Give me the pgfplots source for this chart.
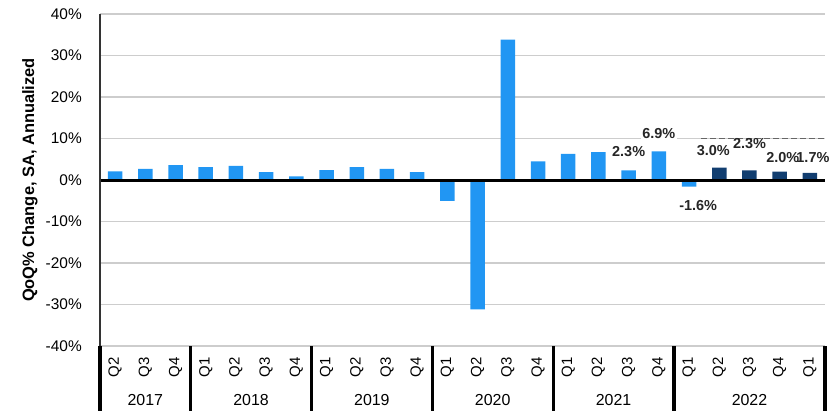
\documentclass[border=0pt]{standalone}
\usepackage{pgfplots}
\pgfplotsset{compat=1.18}
\usepackage{fontspec}
\setmainfont{Liberation Sans}
\definecolor{barlight}{RGB}{33,150,243}
\definecolor{bardark}{RGB}{18,62,112}
\definecolor{gridc}{RGB}{205,205,205}
\begin{document}
\begin{tikzpicture}
\begin{axis}[
  name=ax, at={(0,0)}, anchor=south west,
  scale only axis, width=725bp, height=332bp,
  xmin=-0.5, xmax=23.5, ymin=-40, ymax=40,
  clip=false,
  axis line style={draw=none},
  major tick length=0pt,
  ymajorgrids, grid style={gridc, line width=1.2bp},
  ytick={-40,-30,-20,-10,0,10,20,30,40},
  yticklabels={-40\%,-30\%,-20\%,-10\%,0\%,10\%,20\%,30\%,40\%},
  yticklabel style={anchor=east, inner sep=0pt, xshift=-18bp, font=\fontsize{15.5}{18}\selectfont},
  xtick={0,...,23},
  xticklabels={Q2,Q3,Q4,Q1,Q2,Q3,Q4,Q1,Q2,Q3,Q4,Q1,Q2,Q3,Q4,Q1,Q2,Q3,Q4,Q1,Q2,Q3,Q4,Q1},
  xticklabel style={rotate=90, anchor=east, inner sep=0pt, font=\fontsize{15}{18}\selectfont},
  xticklabel shift=11bp,
  ybar, bar width=14.5bp, bar shift=0pt,
]
\addplot[draw=none, fill=barlight] coordinates {
(0,2.1) (1,2.7) (2,3.6) (3,3.1) (4,3.4) (5,1.9) (6,0.9) (7,2.4) (8,3.1) (9,2.7) (10,1.9)
(11,-5.0) (12,-31.2) (13,33.8) (14,4.5) (15,6.3) (16,6.7) (17,2.3) (18,6.9) (19,-1.6)};
\addplot[draw=none, fill=bardark] coordinates {
(20,3.0) (21,2.3) (22,2.0) (23,1.7)};
% zero line and left axis
\draw[black, line width=3bp] (axis cs:-0.5,0) -- (axis cs:23.5,0);
\draw[black!80, line width=1.5bp] (axis cs:-0.5,40) -- (axis cs:-0.5,-40);
% dashed segment on 10% line
\draw[black!60, line width=1.3bp, dash pattern=on 6bp off 3bp] (axis cs:19.4,10) -- (axis cs:23.5,10);
% separators
\pgfplotsinvokeforeach{-0.5,2.5,6.5,10.5,14.5,18.5,23.5}{
  \draw[black, line width=3.2bp] (axis cs:#1,-40) -- ([yshift=-66bp]axis cs:#1,-40);
}
% year labels
\node[font=\fontsize{16}{18}\selectfont, inner sep=0pt] at ([yshift=-54bp]axis cs:1,-40) {2017};
\node[font=\fontsize{16}{18}\selectfont, inner sep=0pt] at ([yshift=-54bp]axis cs:4.5,-40) {2018};
\node[font=\fontsize{16}{18}\selectfont, inner sep=0pt] at ([yshift=-54bp]axis cs:8.5,-40) {2019};
\node[font=\fontsize{16}{18}\selectfont, inner sep=0pt] at ([yshift=-54bp]axis cs:12.5,-40) {2020};
\node[font=\fontsize{16}{18}\selectfont, inner sep=0pt] at ([yshift=-54bp]axis cs:16.5,-40) {2021};
\node[font=\fontsize{16}{18}\selectfont, inner sep=0pt] at ([yshift=-54bp]axis cs:21,-40) {2022};
% data labels
\node[fill=white, font=\bfseries\fontsize{14.5}{17}\selectfont, text=black!85, inner sep=1.5bp] at (axis cs:17.0,6.8) {2.3\%};
\node[fill=white, font=\bfseries\fontsize{14.5}{17}\selectfont, text=black!85, inner sep=1.5bp] at (axis cs:18.0,11.3) {6.9\%};
\node[font=\bfseries\fontsize{14.5}{17}\selectfont, text=black!85, inner sep=1.5bp] at (axis cs:19.8,7.1) {3.0\%};
\node[font=\bfseries\fontsize{14.5}{17}\selectfont, text=black!85, inner sep=1.5bp] at (axis cs:21.0,8.9) {2.3\%};
\node[font=\bfseries\fontsize{14.5}{17}\selectfont, text=black!85, inner sep=1.5bp] at (axis cs:22.1,5.3) {2.0\%};
\node[font=\bfseries\fontsize{14.5}{17}\selectfont, text=black!85, inner sep=1.5bp] at (axis cs:23.1,5.3) {1.7\%};
\node[font=\bfseries\fontsize{14.5}{17}\selectfont, text=black!85, inner sep=1.5bp] at (axis cs:19.3,-6.2) {-1.6\%};
\end{axis}
\node[rotate=90, font=\bfseries\fontsize{16.5}{19}\selectfont] at ([xshift=-70bp]ax.west) {QoQ\% Change, SA, Annualized};
\pgfresetboundingbox
\path (-100bp,-65bp) rectangle (732bp,346bp);
\end{tikzpicture}
\end{document}
